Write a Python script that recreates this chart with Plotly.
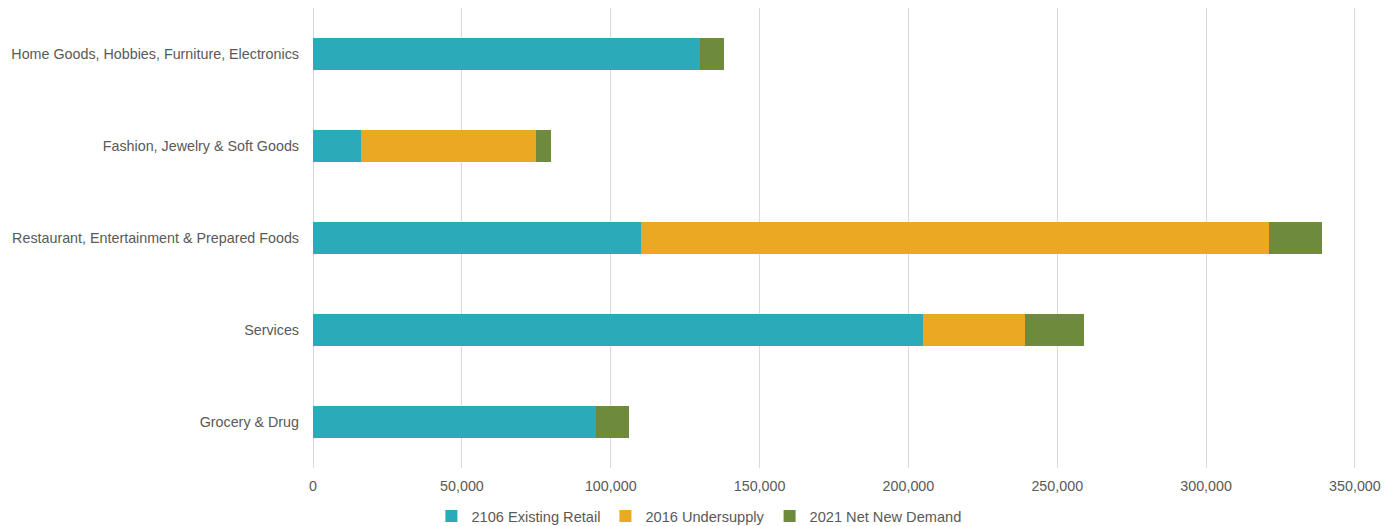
import plotly.graph_objects as go

categories = [
    "Home Goods, Hobbies, Furniture, Electronics",
    "Fashion, Jewelry & Soft Goods",
    "Restaurant, Entertainment & Prepared Foods",
    "Services",
    "Grocery & Drug",
]
existing_retail = [130000, 16000, 110000, 205000, 95000]
undersupply = [0, 59000, 211000, 34000, 0]
net_new_demand = [8000, 5000, 18000, 20000, 11000]

series_names = ["2106 Existing Retail", "2016 Undersupply", "2021 Net New Demand"]
colors = ["#2BAAB9", "#EBA823", "#6E8B3D"]
x_ticks = [0, 50000, 100000, 150000, 200000, 250000, 300000, 350000]

fig = go.Figure()
for name, vals, col in zip(series_names, [existing_retail, undersupply, net_new_demand], colors):
    fig.add_trace(go.Bar(
        y=categories, x=vals, name=name, orientation="h",
        marker=dict(color=col, line=dict(width=0)),
        width=0.35,
    ))

fig.update_layout(
    barmode="stack",
    width=1384, height=526,
    margin=dict(l=311, r=27, t=8, b=58, autoexpand=False),
    paper_bgcolor="white", plot_bgcolor="white",
    font=dict(family="Liberation Sans, Arial, sans-serif", size=14.3, color="#595959"),
    legend=dict(
        orientation="h", xref="container", yref="container",
        x=0.505, xanchor="center", y=0.019, yanchor="middle",
        font=dict(size=14.6, color="#595959"),
        itemwidth=30, traceorder="normal",
    ),
    showlegend=True,
)
fig.update_xaxes(
    range=[-700, 350700], tickvals=x_ticks,
    tickformat=",", showgrid=True, gridcolor="#D9D9D9", gridwidth=1,
    zeroline=False, showline=False, ticks="", ticklabelstandoff=8,
)
fig.update_yaxes(
    categoryorder="array", categoryarray=categories, autorange="reversed",
    showgrid=False, zeroline=False, showline=False, ticks="", ticklabelstandoff=11,
)

fig.write_html("out.html")
